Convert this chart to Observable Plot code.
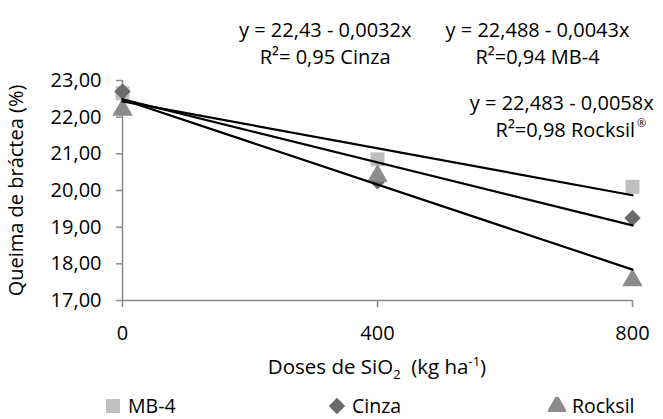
<!DOCTYPE html>
<html>
<head>
<meta charset="utf-8">
<script src="https://cdn.jsdelivr.net/npm/d3@7"></script>
<script src="https://cdn.jsdelivr.net/npm/@observablehq/plot@0.6"></script>
<style>
  html, body { margin: 0; padding: 0; background: #fff; }
  #wrap { position: relative; width: 663px; height: 419px; font-family: "Open Sans", sans-serif; color: #000; overflow: hidden; }
  #wrap svg [aria-label="y-axis tick"], #wrap svg [aria-label="x-axis tick"] { stroke: #8a8a8a; stroke-width: 1.5; }
  .xlabel { position: absolute; left: 0; width: 754px; top: 353px; text-align: center; font-size: 20.5px; line-height: 26px; white-space: pre; }
  .xlabel sub, .xlabel sup { font-size: 13px; line-height: 0; }
  .leg { position: absolute; top: 394px; height: 24px; font-size: 19.5px; line-height: 24px; display: flex; align-items: center; gap: 6px; }
</style>
</head>
<body>
<div id="wrap"></div>
<script>
// ---- data ----
const doses = [0, 400, 800];
const seriesNames = ["MB-4", "Cinza", "Rocksil"];
const mb4 = [22.65, 20.85, 20.1];
const cinza = [22.7, 20.25, 19.25];
const rocksil = [22.2, 20.4, 17.55];
// regression equations as printed on the chart (intercept, slope)
const intercepts = [22.43, 22.488, 22.483];
const slopes = [-0.0032, -0.0043, -0.0058];
const yTicks = [17, 18, 19, 20, 21, 22, 23];
const xTicks = [0, 400, 800];
const eqTexts = ["y = 22,43 - 0,0032x", "R²= 0,95 Cinza", "y = 22,488 - 0,0043x", "R²=0,94 MB-4", "y = 22,483 - 0,0058x"];
const eqTextRock2 = "R²=0,98 Rocksil";

// ---- annotation placement (data units) ----
const eqX = [318, 318, 651, 651, 689];
const eqY = [24.36, 23.63, 24.36, 23.63, 22.37];
const rockX = 804, rockY = 21.64;

const colors = {"MB-4": "#bfbfbf", "Cinza": "#6b6b6b", "Rocksil": "#8c8c8c"};
const symbols = {"MB-4": "square", "Cinza": "diamond2", "Rocksil": "triangle"};
const radii = {"MB-4": 7.9, "Cinza": 7.4, "Rocksil": 7.6};

const values = {"MB-4": mb4, "Cinza": cinza, "Rocksil": rocksil};
const pts = name => doses.map((d, i) => ({dose: d, value: values[name][i], series: name}));
const trend = intercepts.flatMap((b, i) => [0, 800].map(x => ({series: i, dose: x, value: b + slopes[i] * x})));
const eqs = eqTexts.map((t, i) => ({t, x: eqX[i], y: eqY[i]}));

const fmt = d => d.toFixed(2).replace(".", ",");

const chart = Plot.plot({
  width: 663,
  height: 345,
  marginLeft: 122,
  marginRight: 31,
  marginTop: 80,
  marginBottom: 45,
  style: {fontFamily: "'Open Sans', sans-serif", fontSize: "20px", color: "#000", background: "transparent", overflow: "visible"},
  x: {domain: [0, 800], ticks: xTicks, tickSize: 7, tickPadding: 18, label: null},
  y: {domain: [17, 23], ticks: yTicks, tickSize: 6, tickPadding: 15, tickFormat: fmt,
      label: "Queima de bráctea (%)", labelAnchor: "center", labelArrow: "none", labelOffset: 114},
  marks: [
    Plot.ruleY([17], {stroke: "#8a8a8a", strokeWidth: 1.5}),
    Plot.ruleX([0], {stroke: "#8a8a8a", strokeWidth: 1.5}),
    ...seriesNames.map(n => Plot.dot(pts(n), {x: "dose", y: "value", symbol: () => symbols[n], fill: colors[n], r: radii[n], stroke: "none"})),
    Plot.line(trend, {x: "dose", y: "value", z: "series", stroke: "#000", strokeWidth: 2.2}),
    Plot.text(eqs, {x: "x", y: "y", text: "t", textAnchor: "middle", fill: "#000"}),
    Plot.text([eqTextRock2], {x: () => rockX, y: () => rockY, text: d => d, textAnchor: "end", fill: "#000"}),
    Plot.text(["®"], {x: () => rockX, y: () => rockY, text: d => d, textAnchor: "start", dx: 2, dy: -7, fontSize: 11, fill: "#000"})
  ]
});

const wrap = document.getElementById("wrap");
chart.style.position = "absolute";
chart.style.left = "0px";
chart.style.top = "0px";
wrap.appendChild(chart);

const xl = document.createElement("div");
xl.className = "xlabel";
xl.innerHTML = "Doses de SiO<sub>2</sub>  (kg ha<sup>-1</sup>)";
wrap.appendChild(xl);

// legend
const legPos = {"MB-4": 104, "Cinza": 328, "Rocksil": 548};
seriesNames.forEach(n => {
  const item = document.createElement("div");
  item.className = "leg";
  item.style.left = legPos[n] + "px";
  const sym = {square: d3.symbolSquare, diamond2: d3.symbolDiamond2, triangle: d3.symbolTriangle}[symbols[n]];
  const size = Math.PI * radii[n] * radii[n];
  const s = d3.create("svg").attr("width", 18).attr("height", 18).attr("viewBox", "-9 -9 18 18");
  s.append("path").attr("d", d3.symbol(sym, size)()).attr("fill", colors[n]);
  item.appendChild(s.node());
  const t = document.createElement("span");
  t.textContent = n;
  item.appendChild(t);
  wrap.appendChild(item);
});
</script>
</body>
</html>
